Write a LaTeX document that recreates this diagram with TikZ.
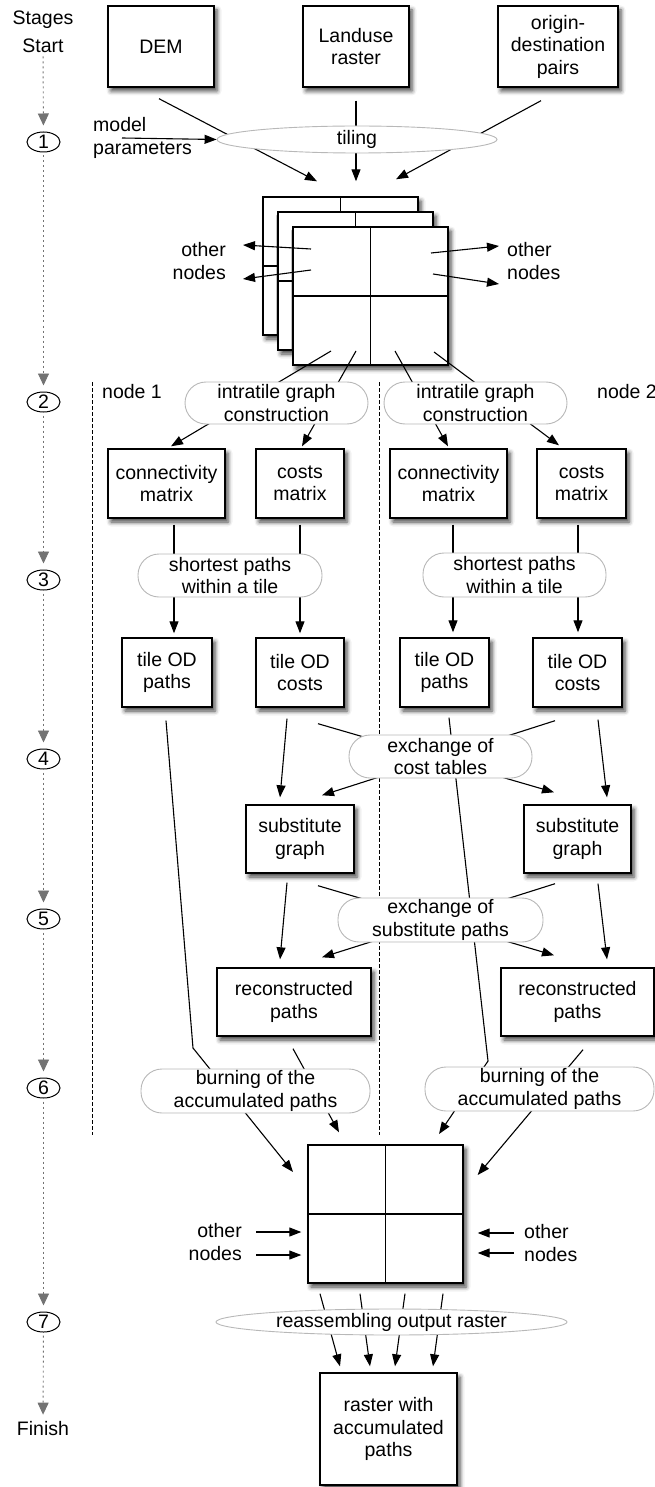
\documentclass[tikz,border=0pt]{standalone}
\usepackage{fontspec}
\setmainfont{Liberation Sans}
\usetikzlibrary{arrows.meta,shapes.geometric,shadows.blur,calc}
\begin{document}
\begin{tikzpicture}[x=1pt,y=-1pt,
  every node/.style={font=\fontsize{19.5}{22.5}\selectfont, inner sep=0pt},
  box/.style={draw, line width=1.4pt, fill=white, align=center,
    blur shadow={shadow xshift=3pt, shadow yshift=-4pt, shadow blur radius=4.5pt, shadow opacity=75}},
  tile/.style={box, minimum width=155pt, minimum height=138pt,
    path picture={\draw[line width=1.4pt] (path picture bounding box.north) -- (path picture bounding box.south)
      (path picture bounding box.west) -- (path picture bounding box.east);}},
  proc/.style={draw=black!28, line width=0.9pt, fill=white, rounded corners=21pt, align=center},
  procell/.style={ellipse, draw=black!28, line width=0.9pt, fill=white},
  stage/.style={ellipse, draw, line width=1pt, minimum width=33pt, minimum height=20pt},
  arr/.style={line width=1.1pt, -{Triangle[length=12pt,width=9pt]}},
  stagearr/.style={draw=black!55, line width=0.9pt, dash pattern=on 2pt off 3pt,
    -{Triangle[length=12pt,width=11pt]}, shorten <=3pt, shorten >=6pt},
  sep/.style={line width=0.9pt, dash pattern=on 4pt off 2pt},
]
\useasboundingbox (0,0) rectangle (655,1487);

% stage column
\node[anchor=base] (stages) at (43,25) {Stages};
\node[anchor=base] (start) at (43,53) {Start};
\node[stage] (s1) at (43.5,142) {1};
\node[stage] (s2) at (43.5,402) {2};
\node[stage] (s3) at (43.5,580) {3};
\node[stage] (s4) at (43.5,759) {4};
\node[stage] (s5) at (43.5,919) {5};
\node[stage] (s6) at (43.5,1088) {6};
\node[stage] (s7) at (43.5,1322) {7};
\node[anchor=base] (finish) at (43,1435) {Finish};
\draw[stagearr] (start) -- (s1);
\draw[stagearr] (s1) -- (s2);
\draw[stagearr] (s2) -- (s3);
\draw[stagearr] (s3) -- (s4);
\draw[stagearr] (s4) -- (s5);
\draw[stagearr] (s5) -- (s6);
\draw[stagearr] (s6) -- (s7);
\draw[stagearr] (s7) -- (finish);

% separators
\coordinate (sepatop) at (92,382);
\coordinate (sepabot) at (92,1135);
\coordinate (sepbtop) at (379,382);
\coordinate (sepbbot) at (379,1135);
\draw[sep] (sepatop) -- (sepabot);
\draw[sep] (sepbtop) -- (sepbbot);
\node[anchor=west] (n1) at (102,392) {node 1};
\node[anchor=west] (n2) at (597,392) {node 2};

% input boxes
\node[box, minimum width=106pt, minimum height=81pt] (dem) at (161,46.5) {DEM};
\node[box, minimum width=106pt, minimum height=81pt] (land) at (356,46.5) {Landuse\\raster};
\node[box, minimum width=120pt, minimum height=81pt] (od) at (558,46.5) {origin-\\destination\\pairs};

% tiles
\node[tile] (tb1) at (340.5,266) {};
\node[tile] (tb2) at (355.5,281) {};
\node[tile] (tf) at (370.5,296) {};

% node boxes
\node[box, minimum width=117pt, minimum height=69pt] (conl) at (166.5,483.5) {connectivity\\matrix};
\node[box, minimum width=88pt, minimum height=69pt] (cosl) at (300,483.5) {costs\\matrix};
\node[box, minimum width=117pt, minimum height=69pt] (conr) at (448.5,483.5) {connectivity\\matrix};
\node[box, minimum width=89pt, minimum height=69pt] (cosr) at (581.5,483.5) {costs\\matrix};
\node[box, minimum width=90pt, minimum height=69pt] (pathl) at (167,672.5) {tile OD\\paths};
\node[box, minimum width=88pt, minimum height=69pt] (costl) at (300,672.5) {tile OD\\costs};
\node[box, minimum width=89pt, minimum height=69pt] (pathr) at (444.5,672.5) {tile OD\\paths};
\node[box, minimum width=89pt, minimum height=69pt] (costr) at (577.5,672.5) {tile OD\\costs};
\node[box, minimum width=108pt, minimum height=68pt] (subl) at (300,839) {substitute\\graph};
\node[box, minimum width=107pt, minimum height=68pt] (subr) at (577.5,839) {substitute\\graph};
\node[box, minimum width=154pt, minimum height=68pt] (recl) at (294,1002) {reconstructed\\paths};
\node[box, minimum width=153pt, minimum height=68pt] (recr) at (577.5,1002) {reconstructed\\paths};
\node[tile] (tfin) at (385.5,1214) {};
\node[box, minimum width=137pt, minimum height=112pt] (rast) at (388.5,1429) {raster with\\accumulated\\paths};

% other nodes labels
\node[anchor=east, align=right] (othl) at (226,261) {other\\nodes};
\node[anchor=west, align=left] (othr) at (507,261) {other\\nodes};
\node[anchor=east, align=right] (othbl) at (242,1242) {other\\nodes};
\node[anchor=west, align=left] (othbr) at (524,1243) {other\\nodes};

% connectors
\draw[arr] ($(dem.south)+(-2,11)$) -- ($(tb1.north)+(-23.5,-15)$);
\draw[arr] ($(land.south)+(0,13)$) -- ($(tb1.north)+(15.5,-15)$);
\draw[arr] ($(od.south)+(-17,13)$) -- ($(tb1.north)+(55.5,-17)$);

\draw[arr] ($(tf.center)+(-59.5,-47)$) -- ($(othl.east)+(17,-16)$);
\draw[arr] ($(tf.center)+(-59.5,-26)$) -- ($(othl.east)+(17,18)$);
\draw[arr] ($(tf.center)+(60.5,-43)$) -- ($(othr.west)+(-8,-15)$);
\draw[arr] ($(tf.center)+(62.5,-22)$) -- ($(othr.west)+(-8,23)$);

\draw[arr] ($(tf.center)+(-39.5,55)$) -- ($(conl.north)+(4.5,-2)$);
\draw[arr] ($(tf.center)+(-14.5,55)$) -- ($(cosl.north)+(2,-2)$);
\draw[arr] ($(tf.center)+(24.5,55)$) -- ($(conr.north)+(-0.5,-2)$);
\draw[arr] ($(tf.center)+(63.5,56)$) -- ($(cosr.north)+(-22.5,-3)$);

\draw[arr] ($(conl.south)+(7.5,6)$) -- ($(pathl.north)+(7,-4)$);
\draw[arr] ($(cosl.south)+(0,6)$) -- ($(costl.north)+(0,-4)$);
\draw[arr] ($(conr.south)+(4.5,6)$) -- ($(pathr.north)+(8.5,-5)$);
\draw[arr] ($(cosr.south)+(-3.5,6)$) -- ($(costr.north)+(0.5,-5)$);

\coordinate (kl) at (193,1048);
\coordinate (kr) at (488,1061);
\draw[arr] ($(pathl.south)+(-1,13)$) -- (kl) -- ($(tfin.center)+(-92.5,-42)$);
\draw[arr] ($(pathr.south)+(4.5,10)$) -- (kr) -- ($(tfin.center)+(53.5,-80)$);
\draw[arr] ($(costl.south)+(-13,11)$) -- ($(subl.north)+(-20,-7)$);
\draw[arr] ($(costl.south)+(18,16)$) -- ($(subr.north)+(-23.5,-12)$);
\draw[arr] ($(costr.south)+(-22.5,13)$) -- ($(subl.north)+(22,-9)$);
\draw[arr] ($(costr.south)+(20.5,12)$) -- ($(subr.north)+(29.5,-7)$);

\draw[arr] ($(subl.south)+(-13,9)$) -- ($(recl.north)+(-14,-8)$);
\draw[arr] ($(subl.south)+(18,12)$) -- ($(recr.north)+(-23.5,-12)$);
\draw[arr] ($(subr.south)+(-22.5,10)$) -- ($(recl.north)+(28,-10)$);
\draw[arr] ($(subr.south)+(20.5,10)$) -- ($(recr.north)+(29.5,-8)$);

\draw[arr] ($(recl.south)+(-1,12)$) -- ($(tfin.north)+(-46.5,-12)$);
\draw[arr] ($(recr.south)+(5.5,13)$) -- ($(tfin.east)+(14,-39)$);

\draw[arr] ($(othbl.east)+(14,-10)$) -- ($(tfin.west)+(-6,18)$);
\draw[arr] ($(othbl.east)+(14,13)$) -- ($(tfin.west)+(-6,41)$);
\draw[arr] ($(othbr.west)+(-10,-10)$) -- ($(tfin.east)+(14,19)$);
\draw[arr] ($(othbr.west)+(-10,10)$) -- ($(tfin.east)+(14,39)$);

\draw[arr] ($(tfin.south)+(-65.5,10)$) -- ($(rast.north)+(-48.5,-6)$);
\draw[arr] ($(tfin.south)+(-25.5,10)$) -- ($(rast.north)+(-18.5,-6)$);
\draw[arr] ($(tfin.south)+(19.5,10)$) -- ($(rast.north)+(6.5,-6)$);
\draw[arr] ($(tfin.south)+(57.5,10)$) -- ($(rast.north)+(44.5,-6)$);

% process nodes (on top)
\node[procell, minimum width=280pt, minimum height=27pt] (tiling) at (357,139.5) {tiling};
\node[proc, minimum width=183pt, minimum height=42pt] (intl) at (276.5,403) {intratile graph\\construction};
\node[proc, minimum width=183pt, minimum height=42pt] (intr) at (475.5,403) {intratile graph\\construction};
\node[proc, minimum width=184pt, minimum height=43pt] (shl) at (230,575.5) {shortest paths\\within a tile};
\node[proc, minimum width=183pt, minimum height=44pt] (shr) at (514.5,575) {shortest paths\\within a tile};
\node[proc, minimum width=183pt, minimum height=43pt] (exc) at (440.5,756.5) {exchange of\\cost tables};
\node[proc, minimum width=205pt, minimum height=44pt] (exs) at (440.5,920) {exchange of\\substitute paths};
\node[proc, minimum width=229pt, minimum height=44pt] (burnl) at (255.5,1091) {burning of the\\accumulated paths};
\node[proc, minimum width=229pt, minimum height=44pt] (burnr) at (539.5,1089) {burning of the\\accumulated paths};
\node[procell, minimum width=351pt, minimum height=26pt] (reas) at (391.5,1322) {reassembling output raster};

\node[anchor=west, align=left] (mp) at (93,138) {model\\parameters};
\draw[arr] ($(mp.west)+(29,0)$) -- (tiling.west);
\end{tikzpicture}
\end{document}
